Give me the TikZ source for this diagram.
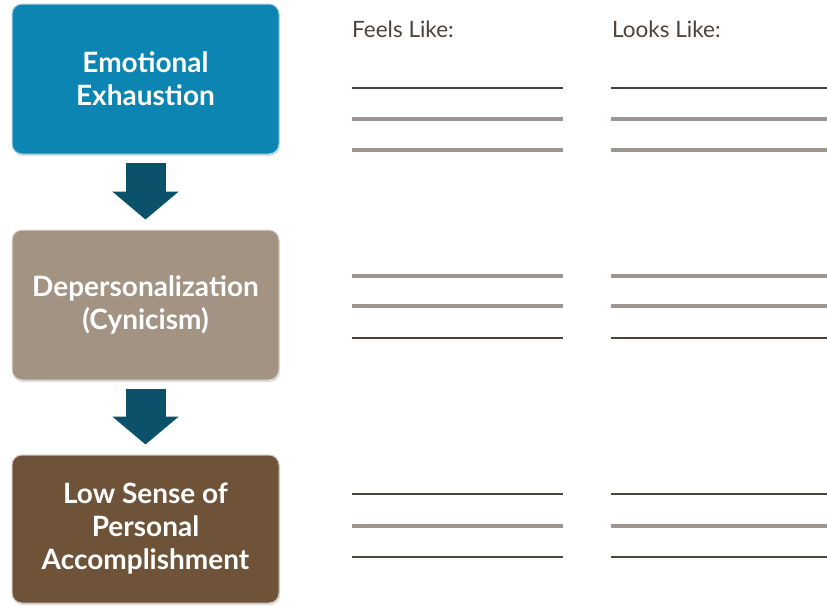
\documentclass[tikz,border=0pt]{standalone}
\usepackage{fontspec}
\setsansfont{Lato}
\usetikzlibrary{arrows.meta,positioning,shadows}

\definecolor{emoblue}{HTML}{0C85B2}
\definecolor{deptaupe}{HTML}{A39383}
\definecolor{lowbrown}{HTML}{6F5339}
\definecolor{arrowteal}{HTML}{0A5169}
\definecolor{inkdark}{HTML}{4B433C}
\definecolor{inkgray}{HTML}{9C968F}

\tikzset{
    stagebox/.style={rounded corners=10pt, minimum width=267pt, align=center,
        text=white, font=\sffamily\bfseries\fontsize{28}{33}\selectfont, draw=white!65!#1,
        line width=1pt, fill=#1, drop shadow={opacity=0.25, shadow xshift=1pt, shadow yshift=-2pt}},
    blockarrow/.style={arrowteal, line width=40pt,
        -{Triangle[width=65pt,length=28pt]}},
    darkline/.style={inkdark, line width=2pt},
    grayline/.style={inkgray, line width=3.2pt},
    header/.style={anchor=base west, inner sep=0pt, text=inkdark,
        font=\sffamily\fontsize{22.5}{24}\selectfont}
}

\begin{document}
\begin{tikzpicture}[x=1pt,y=-1pt]
    \useasboundingbox (0,0) rectangle (827,605);

    \node (emo) [stagebox=emoblue, minimum height=150pt] at (145.5,79) {Emotional\\Exhaustion};
    \node (dep) [stagebox=deptaupe, minimum height=150pt] at (145.5,305) {Depersonalization\\(Cynicism)};
    \node (low) [stagebox=lowbrown, minimum height=148pt] at (145.5,529) {Low Sense of\\Personal\\Accomplishment};

    \draw[blockarrow] ([yshift=-8pt]emo.south) -- ([yshift=10pt]dep.north);
    \draw[blockarrow] ([yshift=-8pt]dep.south) -- ([yshift=10pt]low.north);

    \node (feels) [header] at (352,37) {Feels Like:};
    \node (looks) [header] at (612,37) {Looks Like:};

    % writing lines, left and right column
    \foreach \x/\xe in {352/563, 611/827} {
        \draw[darkline] (\x,88) -- (\xe,88);
        \draw[grayline] (\x,119) -- (\xe,119);
        \draw[grayline] (\x,150) -- (\xe,150);
        \draw[grayline] (\x,276) -- (\xe,276);
        \draw[grayline] (\x,306) -- (\xe,306);
        \draw[darkline] (\x,338) -- (\xe,338);
        \draw[darkline] (\x,494) -- (\xe,494);
        \draw[grayline] (\x,526) -- (\xe,526);
        \draw[darkline] (\x,557) -- (\xe,557);
    }
\end{tikzpicture}
\end{document}
